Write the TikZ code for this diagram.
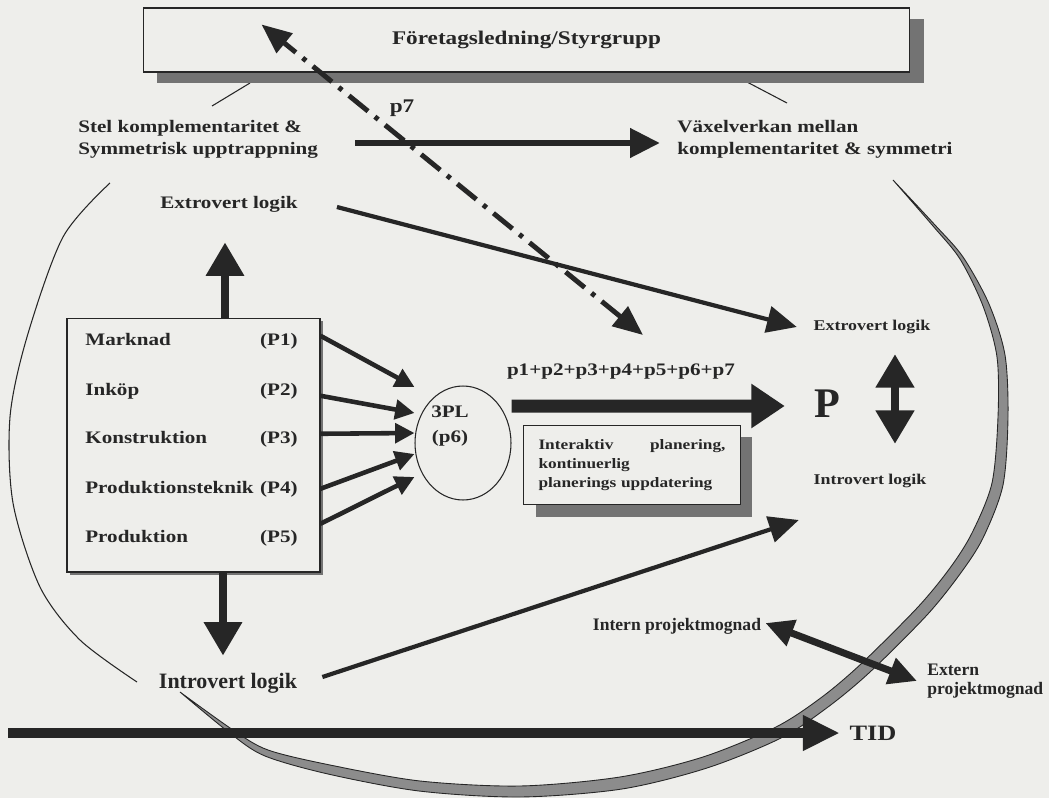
\documentclass[tikz,border=0pt]{standalone}
\usepackage{fontspec}
\setmainfont{Liberation Serif}[FakeStretch=1.2]
\newfontfamily\narrowfont{Liberation Serif}
\usepackage{xcolor}
\usepackage{tikz}
\usetikzlibrary{shapes.geometric, arrows.meta, positioning, shadows}

\definecolor{paper}{RGB}{238,238,235}
\definecolor{ink}{RGB}{38,38,38}

\begin{document}
\begin{tikzpicture}[x=0.02cm, y=-0.02cm,
    every node/.style={inner sep=0pt, text=ink, font=\bfseries\fontsize{10}{12.5}\selectfont},
    box/.style={draw=ink, line width=0.6pt, fill=paper},
    boxshadow/.style 2 args={drop shadow={shadow xshift=#1, shadow yshift=#2, fill=black!55, opacity=1}},
    fatarrow/.style={ink, line width=3.8pt, -{Triangle[length=17pt, width=16pt]}},
    thinarrow/.style={ink, line width=2.4pt, -{Triangle[length=17pt, width=15pt]}},
    parrow/.style={ink, line width=2.6pt, -{Triangle[length=11pt, width=11pt]}},
    vertarrow/.style={ink, line width=4pt, -{Triangle[length=19pt, width=21pt]}},
    sumarrow/.style={ink, line width=7.4pt, -{Triangle[length=19pt, width=24pt]}},
    dblarrow/.style={ink, line width=4.5pt, {Triangle[length=19pt, width=21pt]}-{Triangle[length=19pt, width=21pt]}},
    matarrow/.style={ink, line width=4pt, {Triangle[length=16pt, width=15pt]}-{Triangle[length=16pt, width=15pt]}},
    tidarrow/.style={ink, line width=5.7pt, -{Triangle[length=21pt, width=19pt]}},
    dasharrow/.style={ink, line width=2.8pt, dash pattern=on 14pt off 5pt on 2.5pt off 5pt,
        {Triangle[length=17pt, width=14pt]}-{Triangle[length=17pt, width=14pt]}},
    arc/.style={ink, line width=0.6pt}]

    % Paper
    \fill[paper] (0,0) rectangle (1049,798);
    \useasboundingbox (0,0) rectangle (1049,798);

    % Project cycle
    \draw[arc] plot[smooth] coordinates {(110,183) (63,237) (27,337) (10,417) (13,503) (40,587) (80,640) (137,682)};
    \filldraw[fill=black!45, draw=ink, line width=0.5pt]
        plot[smooth] coordinates {(893,180) (933,226) (960,259) (983,306) (997,357) (998,417) (992,483) (972,533) (950,568) (918,607) (862,663) (822,697) (776,727) (703,757) (620,777) (520,786) (420,781) (330,765) (268,750) (233,730) (180,692)}
        -- plot[smooth] coordinates {(180,692) (231,734) (265,756) (328,774) (419,791) (520,797) (622,789) (707,768) (781,738) (828,707) (870,672) (927,615) (960,574) (983,538) (1003,485) (1008,417) (1005,355) (989,304) (963,257) (935,225) (893,180)}
        -- cycle;
    \draw[arc] (250,83) -- (212,106);
    \draw[arc] (747,82) -- (787,103);

    % Management
    \node[box, boxshadow={0.28cm}{-0.22cm}, minimum width=15.34cm, minimum height=1.28cm,
        font=\bfseries\fontsize{11}{13}\selectfont] (ledning) at (526.5,40) {Företagsledning/Styrgrupp};
    \node[anchor=west, align=left] (stel) at (78,139) {Stel komplementaritet \&\\Symmetrisk upptrappning};
    \node[anchor=west, align=left] (vaxel) at (677,139) {Växelverkan mellan\\komplementaritet \& symmetri};
    \node[font=\bfseries\fontsize{11}{13}\selectfont] (p7) at (402,108) {p7};
    \node (extroL) at (229,204) {Extrovert logik};

    % Functions
    \node[box, boxshadow={0.06cm}{-0.06cm}, minimum width=5.06cm, minimum height=5.08cm] (pbox) at (193.5,445) {};
    \foreach \i/\area/\y in {1/Marknad/345, 2/Inköp/395, 3/Konstruktion/443, 4/Produktionsteknik/493, 5/Produktion/542} {
        \node[anchor=base west] (m\i) at (85,\y) {\area};
        \node[anchor=base east] (t\i) at (298,\y) {(P\i)};
    }

    % 3PL
    \node[draw=ink, line width=0.6pt, ellipse, minimum width=1.92cm, minimum height=2.28cm] (tplc) at (463,443) {};
    \node[align=center, font=\bfseries\fontsize{10}{14}\selectfont] (tpl) at (450,426) {3PL\\(p6)};

    % Result
    \node (sum) at (621,372) {p1+p2+p3+p4+p5+p6+p7};
    \node[font=\narrowfont\bfseries\fontsize{24}{26}\selectfont] (P) at (827,404) {P};
    \node[box, boxshadow={0.24cm}{-0.24cm}, text width=3.74cm, inner xsep=0.3cm, inner ysep=0.28cm, align=left,
        font=\bfseries\fontsize{8.2}{10.8}\selectfont] (plan) at (632,465) {Interaktiv\hfill planering,\\kontinuerlig\\planerings uppdatering};
    \node[font=\bfseries\fontsize{8.5}{10}\selectfont] (extroR) at (872,327) {Extrovert logik};
    \node[font=\bfseries\fontsize{8.5}{10}\selectfont] (introR) at (870,481) {Introvert logik};
    \node[font=\narrowfont\bfseries\fontsize{12.5}{14}\selectfont] (introL) at (228,683) {Introvert logik};
    \node[font=\narrowfont\bfseries\fontsize{10}{12}\selectfont] (intern) at (677,626) {Intern projektmognad};
    \node[anchor=west, align=left, font=\narrowfont\bfseries\fontsize{10}{10.5}\selectfont] (extern) at (927,681) {Extern\\projektmognad};
    \node[font=\bfseries\fontsize{12.5}{14}\selectfont] (tid) at (873,733) {TID};
    \coordinate (tidstart) at (8,733);
    \coordinate (p7tip) at (643,335);

    % Arrows
    \draw[fatarrow] ([xshift=0.74cm, yshift=-0.08cm]stel.east) -- ([xshift=-0.34cm, yshift=-0.08cm]vaxel.west);
    \draw[thinarrow] ([xshift=0.78cm, yshift=-0.06cm]extroL.east) -- ([xshift=-0.33cm]extroR.west);
    \draw[thinarrow] ([xshift=0.5cm, yshift=0.12cm]introL.east) -- ([xshift=-0.29cm, yshift=-0.78cm]introR.west);
    \draw[vertarrow] ([xshift=0.63cm]pbox.north) -- ++(0,-75);
    \draw[vertarrow] ([xshift=0.59cm]pbox.south) -- ++(0,83);
    \foreach \i/\sy/\ey in {1/0.1/1.12, 2/-0.1/0.6, 3/0.1/0.2, 4/0/-0.22, 5/0.28/-0.68}
        \draw[parrow] ([yshift=\sy cm]t\i -| pbox.east) -- ([yshift=\ey cm]tplc.west);
    \draw[sumarrow] ([yshift=0.74cm]tplc.east) -- ([xshift=-0.58cm, yshift=-0.04cm]P.west);
    \draw[dblarrow] ([xshift=0.46cm, yshift=-0.4cm]extroR.south) -- ([xshift=0.5cm, yshift=0.6cm]introR.north);
    \draw[matarrow] ([xshift=0.08cm, yshift=0.06cm]intern.east) -- ([xshift=-0.2cm]extern.west);
    \draw[tidarrow] (tidstart) -- ([xshift=-0.19cm]tid.west);
    \draw[dasharrow] (p7tip) -- ([xshift=2.38cm, yshift=-0.34cm]ledning.north west);
\end{tikzpicture}
\end{document}
